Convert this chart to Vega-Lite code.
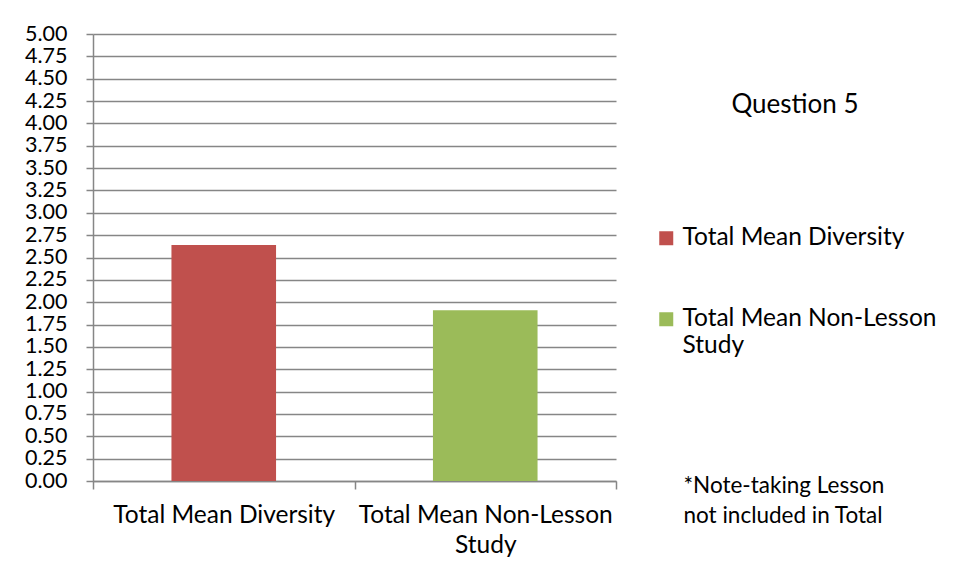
{
  "$schema": "https://vega.github.io/schema/vega-lite/v6.json",
  "autosize": {"type": "none"},
  "width": 523,
  "height": 447,
  "padding": {"left": 93, "top": 34, "right": 339, "bottom": 97},
  "background": "white",
  "config": {"view": {"stroke": null}, "font": "Lato"},
  "data": {"values": [
    {"cat": "Total Mean Diversity", "v": 2.64},
    {"cat": "Total Mean Non-Lesson Study", "v": 1.91}
  ]},
  "mark": {"type": "bar", "width": {"band": 0.4}},
  "encoding": {
    "x": {
      "field": "cat", "type": "nominal", "sort": null,
      "scale": {"paddingInner": 0, "paddingOuter": 0},
      "axis": {
        "title": ["*Note-taking Lesson", "not included in Total"],
        "titleX": 590, "titleY": -7, "titleAlign": "left", "titleAnchor": "start",
        "titleBaseline": "top", "titleFontWeight": "normal", "titleFontSize": 22.5,
        "titleLineHeight": 30, "titleColor": "black",
        "labelExpr": "datum.label == 'Total Mean Non-Lesson Study' ? ['Total Mean Non-Lesson', 'Study'] : datum.label",
        "labelAngle": 0, "labelFontSize": 24.5, "labelLineHeight": 30, "labelPadding": 14,
        "labelBaseline": "top", "labelColor": "black", "labelLimit": 400,
        "tickBand": "extent", "tickSize": 8, "tickColor": "#868686", "tickWidth": 1.5,
        "domainColor": "#868686", "domainWidth": 1.5, "grid": false
      }
    },
    "y": {
      "field": "v", "type": "quantitative",
      "scale": {"domain": [0, 5], "nice": false},
      "axis": {
        "values": [0, 0.25, 0.5, 0.75, 1, 1.25, 1.5, 1.75, 2, 2.25, 2.5, 2.75, 3, 3.25, 3.5, 3.75, 4, 4.25, 4.5, 4.75, 5],
        "format": ".2f", "title": null, "tickSize": 7, "tickColor": "#868686", "tickWidth": 1.5,
        "labelFontSize": 21.5, "labelPadding": 19, "labelColor": "black", "labelOverlap": false,
        "labelFlush": false,
        "domainColor": "#868686", "domainWidth": 1.5,
        "grid": true, "gridColor": "#868686", "gridWidth": 1.5
      }
    },
    "color": {
      "field": "cat", "type": "nominal", "sort": null,
      "scale": {"range": ["#C0504D", "#9BBB59"]},
      "legend": {
        "orient": "none", "legendX": 561, "legendY": 58,
        "title": "Question 5", "titleFontSize": 26, "titleFontWeight": "normal", "titleColor": "black",
        "titleAnchor": "middle", "titlePadding": 108,
        "symbolType": "square", "symbolSize": 196, "symbolStrokeWidth": 0, "symbolOpacity": 1,
        "labelFontSize": 24.5, "labelColor": "black", "labelOffset": 4, "labelLimit": 400,
        "labelExpr": "datum.label == 'Total Mean Non-Lesson Study' ? ['Total Mean Non-Lesson', 'Study'] : datum.label",
        "rowPadding": 56
      }
    }
  }
}
